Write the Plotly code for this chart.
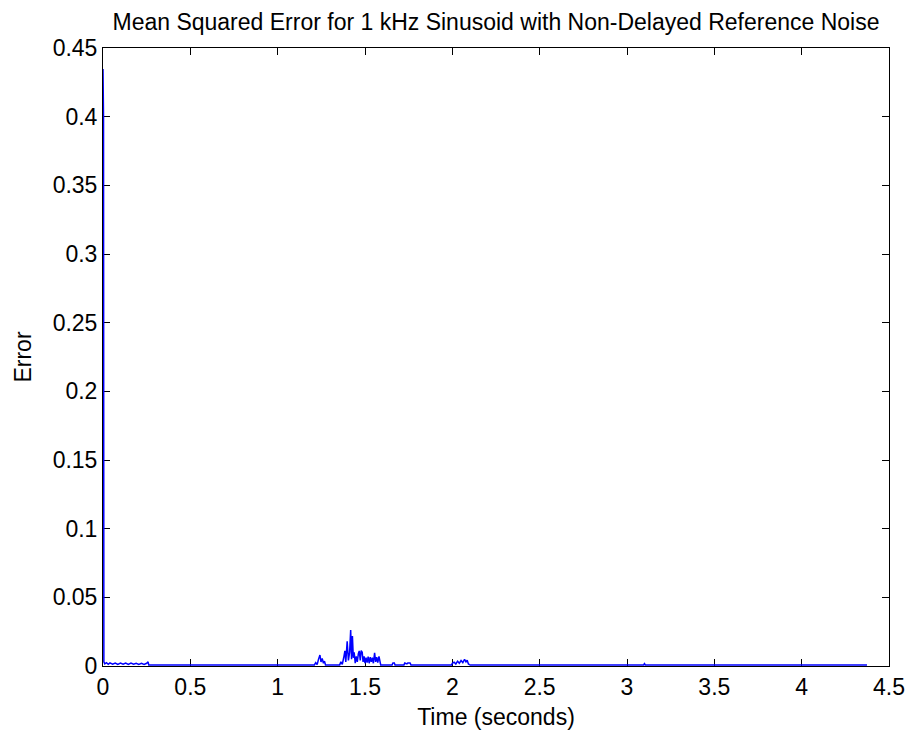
import plotly.graph_objects as go

# Time (s) and mean squared error values
time_s = [0.000, 0.003, 0.005, 0.010, 0.020, 0.030, 0.040, 0.055, 0.070, 0.085, 0.100,
          0.115, 0.130, 0.145, 0.160, 0.175, 0.190, 0.205, 0.220, 0.235, 0.250,
          0.258, 0.262,
          1.210, 1.218, 1.226, 1.234, 1.242, 1.248, 1.255, 1.262, 1.268, 1.274,
          1.355, 1.362, 1.370, 1.378, 1.385, 1.390, 1.398, 1.405, 1.412, 1.418,
          1.423, 1.428, 1.433, 1.438, 1.444, 1.450, 1.456, 1.462, 1.467, 1.473,
          1.478, 1.484, 1.489, 1.495, 1.500, 1.506, 1.512, 1.518, 1.524, 1.530,
          1.536, 1.542, 1.548, 1.555, 1.561, 1.567, 1.573, 1.580, 1.586, 1.590,
          1.655, 1.660, 1.668, 1.672,
          1.723, 1.728, 1.740, 1.745, 1.758, 1.763,
          1.996, 2.000, 2.010, 2.020, 2.030, 2.040, 2.050, 2.060, 2.070, 2.078,
          2.085, 2.092, 2.098, 2.102,
          3.095, 3.100, 3.105,
          4.374]
mse = [0.4347, 0.4000, 0.0030, 0.0015, 0.0024, 0.0012, 0.0023, 0.0013, 0.0022, 0.0012, 0.0021,
       0.0013, 0.0022, 0.0012, 0.0021, 0.0013, 0.0020, 0.0012, 0.0019, 0.0012, 0.0020,
       0.0030, 0.0008,
       0.0008, 0.0025, 0.0010, 0.0050, 0.0080, 0.0030, 0.0055, 0.0020, 0.0035, 0.0008,
       0.0008, 0.0030, 0.0012, 0.0060, 0.0110, 0.0030, 0.0180, 0.0040, 0.0100, 0.0262,
       0.0050, 0.0218, 0.0060, 0.0100, 0.0020, 0.0070, 0.0030, 0.0090, 0.0110, 0.0040,
       0.0112, 0.0100, 0.0030, 0.0070, 0.0020, 0.0060, 0.0025, 0.0068, 0.0020, 0.0065,
       0.0030, 0.0060, 0.0020, 0.0095, 0.0030, 0.0065, 0.0025, 0.0070, 0.0020, 0.0008,
       0.0008, 0.0022, 0.0022, 0.0008,
       0.0008, 0.0022, 0.0015, 0.0022, 0.0022, 0.0008,
       0.0008, 0.0020, 0.0028, 0.0015, 0.0035, 0.0020, 0.0040, 0.0025, 0.0048, 0.0030,
       0.0042, 0.0015, 0.0010, 0.0008,
       0.0008, 0.0018, 0.0008,
       0.0008]

x_ticks = [0, 0.5, 1, 1.5, 2, 2.5, 3, 3.5, 4, 4.5]
x_labels = ["0", "0.5", "1", "1.5", "2", "2.5", "3", "3.5", "4", "4.5"]
y_ticks = [0, 0.05, 0.1, 0.15, 0.2, 0.25, 0.3, 0.35, 0.4, 0.45]
y_labels = ["0", "0.05", "0.1", "0.15", "0.2", "0.25", "0.3", "0.35", "0.4", "0.45"]

FONT = "Liberation Sans, Arial, sans-serif"
FS = 23

fig = go.Figure()
fig.add_trace(go.Scatter(x=time_s, y=mse, mode="lines",
                         line=dict(color="rgb(0,0,255)", width=1.5),
                         showlegend=False, hoverinfo="x+y"))

axis_common = dict(showline=True, linecolor="black", linewidth=1, mirror="ticks",
                   ticks="inside", ticklen=7, tickwidth=1, tickcolor="black",
                   showgrid=False, zeroline=False, layer="below traces",
                   automargin=False,
                   tickfont=dict(family=FONT, size=FS, color="black"))

fig.update_layout(
    width=911, height=734,
    margin=dict(l=103, r=22, t=48, b=68),
    paper_bgcolor="white", plot_bgcolor="white",
    font=dict(family=FONT, size=FS, color="black"),
    title=dict(text="Mean Squared Error for 1 kHz Sinusoid with Non-Delayed Reference Noise",
               x=0.5, xref="paper", y=1 - 22 / 734, yref="container",
               xanchor="center", yanchor="middle",
               font=dict(family=FONT, size=FS, color="black")),
    xaxis=dict(range=[0, 4.5], tickvals=x_ticks, ticktext=x_labels,
               title=dict(text="Time (seconds)", standoff=10,
                          font=dict(family=FONT, size=FS)),
               **axis_common),
    yaxis=dict(range=[0, 0.45], tickvals=y_ticks, ticktext=y_labels,
               title=dict(text="Error", standoff=14,
                          font=dict(family=FONT, size=FS)),
               **axis_common),
)

fig.write_html("out.html")
